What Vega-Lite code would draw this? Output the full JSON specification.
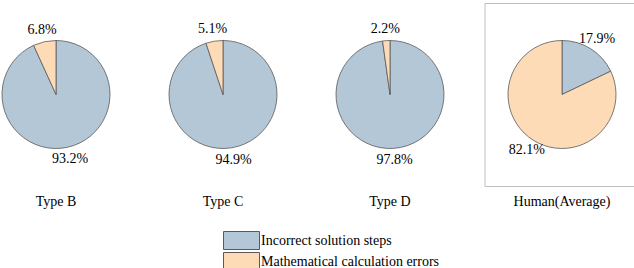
{
  "$schema": "https://vega.github.io/schema/vega-lite/v6.json",
  "padding": {"left": 0, "top": 2, "right": 0, "bottom": 0},
  "background": "white",
  "spacing": 37.5,
  "data": {"values": [
    {"type": "Type B", "cat": "Incorrect solution steps", "value": 0.932},
    {"type": "Type B", "cat": "Mathematical calculation errors", "value": 0.068},
    {"type": "Type C", "cat": "Incorrect solution steps", "value": 0.949},
    {"type": "Type C", "cat": "Mathematical calculation errors", "value": 0.051},
    {"type": "Type D", "cat": "Incorrect solution steps", "value": 0.978},
    {"type": "Type D", "cat": "Mathematical calculation errors", "value": 0.022},
    {"type": "Human(Average)", "cat": "Incorrect solution steps", "value": 0.179},
    {"type": "Human(Average)", "cat": "Mathematical calculation errors", "value": 0.821}
  ]},
  "config": {
    "view": {"stroke": null},
    "font": "Liberation Serif, Times New Roman, serif",
    "text": {"font": "Liberation Serif, Times New Roman, serif", "fontSize": 14},
    "title": {"font": "Liberation Serif, Times New Roman, serif", "fontSize": 14, "fontWeight": "normal", "color": "black", "orient": "bottom", "offset": 9, "anchor": "middle"},
    "legend": {"labelFont": "Liberation Serif, Times New Roman, serif", "labelFontSize": 14, "labelColor": "black", "labelLimit": 400}
  },
  "resolve": {"scale": {"color": "shared"}},
  "hconcat": [
    {
      "width": 110, "height": 183,
      "title": "Type B",
      "transform": [{"filter": "datum.type === 'Type B'"}],
      "encoding": {
        "theta": {"field": "value", "type": "quantitative", "stack": true},
        "order": {"field": "cat", "sort": "ascending"},
        "color": {"field": "cat", "type": "nominal"}
      },
      "layer": [
        {"mark": {"type": "arc", "outerRadius": 54, "stroke": "#595959", "strokeWidth": 0.8}},
        {"mark": {"type": "text", "radius": 66, "fontSize": 14},
         "encoding": {"text": {"field": "value", "type": "quantitative", "format": ".1%"}, "color": {"value": "black"}}}
      ]
    },
    {
      "width": 147, "height": 183,
      "title": "Type C",
      "transform": [{"filter": "datum.type === 'Type C'"}],
      "encoding": {
        "theta": {"field": "value", "type": "quantitative", "stack": true},
        "order": {"field": "cat", "sort": "ascending"},
        "color": {"field": "cat", "type": "nominal"}
      },
      "layer": [
        {"mark": {"type": "arc", "outerRadius": 54, "stroke": "#595959", "strokeWidth": 0.8}},
        {"mark": {"type": "text", "radius": 66, "fontSize": 14},
         "encoding": {"text": {"field": "value", "type": "quantitative", "format": ".1%"}, "color": {"value": "black"}}}
      ]
    },
    {
      "width": 108, "height": 183,
      "title": "Type D",
      "transform": [{"filter": "datum.type === 'Type D'"}],
      "encoding": {
        "theta": {"field": "value", "type": "quantitative", "stack": true},
        "order": {"field": "cat", "sort": "ascending"},
        "color": {"field": "cat", "type": "nominal"}
      },
      "layer": [
        {"mark": {"type": "arc", "outerRadius": 54, "stroke": "#595959", "strokeWidth": 0.8}},
        {"mark": {"type": "text", "radius": 66, "fontSize": 14},
         "encoding": {"text": {"field": "value", "type": "quantitative", "format": ".1%"}, "color": {"value": "black"}}}
      ]
    },
    {
      "width": 155, "height": 183,
      "title": "Human(Average)",
      "view": {"stroke": "#bfbfbf", "strokeWidth": 1},
      "transform": [{"filter": "datum.type === 'Human(Average)'"}],
      "encoding": {
        "theta": {"field": "value", "type": "quantitative", "stack": true},
        "order": {"field": "cat", "sort": "ascending"},
        "color": {
          "field": "cat", "type": "nominal",
          "scale": {"domain": ["Incorrect solution steps", "Mathematical calculation errors"], "range": ["#b4c7d6", "#fddbb6"]},
          "legend": {
            "title": null, "orient": "none", "legendX": 231, "legendY": 228,
            "direction": "vertical", "padding": 0, "rowPadding": -7, "labelOffset": 10,
            "symbolType": "M-2,-1H2V1H-2Z", "symbolSize": 324,
            "symbolStrokeColor": "#7f7f7f", "symbolStrokeWidth": 1, "symbolOpacity": 1
          }
        }
      },
      "layer": [
        {"mark": {"type": "arc", "outerRadius": 54, "stroke": "#595959", "strokeWidth": 0.8}},
        {"mark": {"type": "text", "radius": 66, "fontSize": 14},
         "encoding": {"text": {"field": "value", "type": "quantitative", "format": ".1%"}, "color": {"value": "black"}}}
      ]
    }
  ]
}
